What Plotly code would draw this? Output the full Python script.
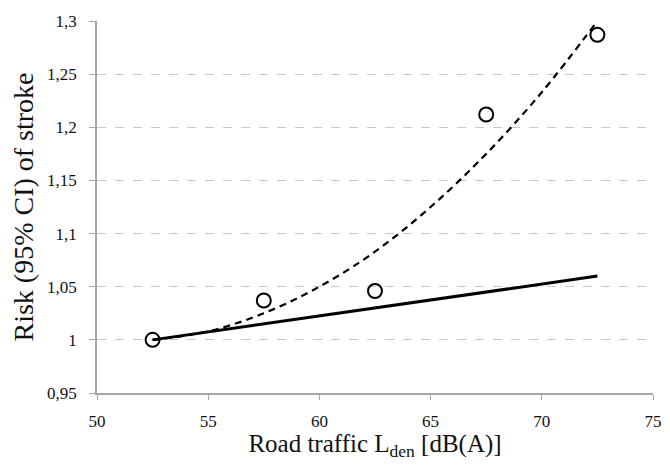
import plotly.graph_objects as go

# Data
x_points = [52.5, 57.5, 62.5, 67.5, 72.5]
y_points = [1.000, 1.037, 1.046, 1.212, 1.287]

x_linear = [52.5, 72.5]
y_linear = [1.000, 1.060]

x_trend = [52.5, 55.0, 57.5, 60.0, 62.5, 65.0, 67.5, 70.0, 72.5]
y_trend = [1.000, 1.008, 1.025, 1.050, 1.083, 1.125, 1.175, 1.233, 1.300]

x_ticks = [50, 55, 60, 65, 70, 75]
y_ticks = [0.95, 1.0, 1.05, 1.1, 1.15, 1.2, 1.25, 1.3]

FONT = "Liberation Serif"
TXT = "#111111"

fig = go.Figure()
fig.add_trace(go.Scatter(x=x_trend, y=y_trend, mode="lines",
                         line=dict(color="black", width=2.2, dash="7px,5px"),
                         line_shape="spline", hoverinfo="skip"))
fig.add_trace(go.Scatter(x=x_linear, y=y_linear, mode="lines", line=dict(color="black", width=3)))
fig.add_trace(go.Scatter(x=x_points, y=y_points, mode="markers",
                         marker=dict(symbol="circle-open", size=14, color="black",
                                     line=dict(width=2, color="black"))))

fig.update_layout(
    width=660, height=453,
    margin=dict(l=89, r=15, t=13, b=68),
    paper_bgcolor="white", plot_bgcolor="white",
    showlegend=False,
    separators=", ",
    font=dict(family=FONT, color=TXT, size=17),
    xaxis=dict(
        range=[50, 75], tickvals=x_ticks, showgrid=False, zeroline=False,
        showline=True, linecolor="#a6a6a6", linewidth=1.5,
        ticks="outside", ticklen=5, tickcolor="#a6a6a6", ticklabelstandoff=7,
        ticklabeloverflow="allow",
        tickfont=dict(family=FONT, size=17, color=TXT),
        automargin=False,
        title=dict(text="Road traffic L<sub>den</sub> [dB(A)]",
                   font=dict(family=FONT, size=25, color=TXT), standoff=9),
    ),
    yaxis=dict(
        range=[0.95, 1.3], tickvals=y_ticks, showgrid=True, gridcolor="#c8c8c8",
        griddash="dash", gridwidth=1,
        zeroline=False, showline=True, linecolor="#a6a6a6", linewidth=1.5,
        ticks="outside", ticklen=6, tickcolor="#a6a6a6", ticklabelstandoff=9,
        tickfont=dict(family=FONT, size=17, color=TXT),
        automargin=False,
        title=dict(text="Risk (95% CI) of stroke",
                   font=dict(family=FONT, size=28, color=TXT), standoff=8),
    ),
)

fig.write_html("out.html")
